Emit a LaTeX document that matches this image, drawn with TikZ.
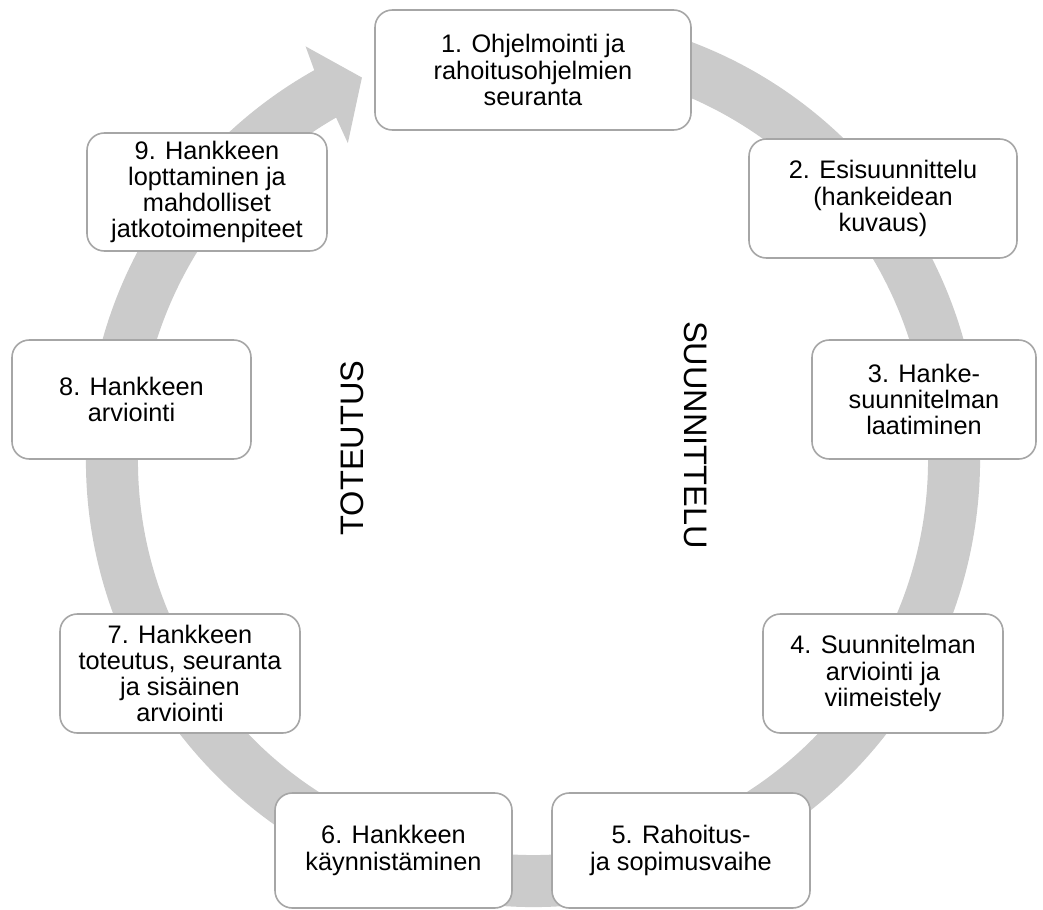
\documentclass[tikz,border=0pt]{standalone}
\usepackage{fontspec}
\setmainfont{Liberation Sans}
\definecolor{ringgray}{HTML}{CBCBCB}
\definecolor{boxline}{HTML}{A6A6A6}
\begin{document}
\begin{tikzpicture}[x=0.75pt,y=0.75pt,
  stagebox/.style={draw=boxline,line width=1.2pt,fill=white,rounded corners=13pt,
    align=center,inner sep=0pt,font=\fontsize{19}{19.6}\selectfont},
  phase/.style={font=\fontsize{24.4}{26}\selectfont,inner sep=0pt}]
\useasboundingbox (0,0) rectangle (1043,-910);
% circular arrow
\fill[ringgray] ([shift={(533,-460)}]80:447) arc[start angle=80,end angle=-240.7,radius=335.25pt]
  -- ([shift={(533,-460)}]118.8:472)
  -- ([shift={(533,-460)}]114.1:419)
  -- ([shift={(533,-460)}]120.3:367)
  -- ([shift={(533,-460)}]119.9:395)
  arc[start angle=-240.1,end angle=80,radius=296.25pt] -- cycle;
% stages
\node[stagebox,minimum width=316*0.75pt,minimum height=120*0.75pt] (b1) at (533,-70) {1. Ohjelmointi ja\\rahoitusohjelmien\\seuranta};
\node[stagebox,minimum width=268*0.75pt,minimum height=119*0.75pt] (b2) at (883,-198.5) {2. Esisuunnittelu\\(hankeidean\\kuvaus)};
\node[stagebox,minimum width=224*0.75pt,minimum height=119*0.75pt] (b3) at (924,-399.5) {3. Hanke-\\suunnitelman\\laatiminen};
\node[stagebox,minimum width=240*0.75pt,minimum height=119*0.75pt] (b4) at (883,-673.5) {4. Suunnitelman\\arviointi ja\\viimeistely};
\node[stagebox,minimum width=258*0.75pt,minimum height=115*0.75pt] (b5) at (681,-850.5) {5. Rahoitus-\\ja sopimusvaihe};
\node[stagebox,minimum width=237*0.75pt,minimum height=115*0.75pt] (b6) at (393.5,-850.5) {6. Hankkeen\\käynnistäminen};
\node[stagebox,minimum width=240*0.75pt,minimum height=119*0.75pt] (b7) at (180,-673.5) {7. Hankkeen\\toteutus, seuranta\\ja sisäinen\\arviointi};
\node[stagebox,minimum width=239*0.75pt,minimum height=119*0.75pt] (b8) at (131.5,-399.5) {8. Hankkeen\\arviointi};
\node[stagebox,minimum width=240*0.75pt,minimum height=118*0.75pt] (b9) at (207,-192) {9. Hankkeen\\lopttaminen ja\\mahdolliset\\jatkotoimenpiteet};
% phase labels
\node[phase,rotate=-90] (suun) at (696,-435) {SUUNNITTELU};
\node[phase,rotate=90] (tot) at (352,-448) {TOTEUTUS};
\end{tikzpicture}
\end{document}
